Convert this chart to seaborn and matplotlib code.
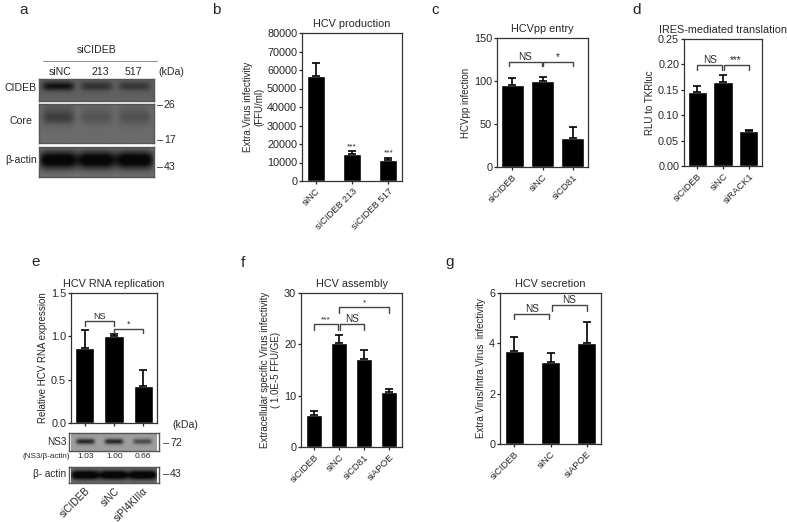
import numpy as np
import pandas as pd
import matplotlib
matplotlib.use("Agg")
import matplotlib.pyplot as plt
import seaborn as sns

# ---- data ----
b_groups = ["siNC", "siCIDEB 213", "siCIDEB 517"]
b_mean = [57000, 14500, 11500]
b_err = [7000, 1500, 1000]

c_groups = ["siCIDEB", "siNC", "siCD81"]
c_mean = [95, 100, 34]
c_err = [8, 5, 12]

d_groups = ["siCIDEB", "siNC", "siRACK1"]
d_mean = [0.145, 0.165, 0.069]
d_err = [0.013, 0.014, 0.002]

e_groups = ["siCIDEB", "siNC", "siPI4KIIIα"]
e_mean = [0.86, 1.00, 0.43]
e_err = [0.21, 0.03, 0.18]

f_groups = ["siCIDEB", "siNC", "siCD81", "siAPOE"]
f_mean = [6.3, 20.3, 17.2, 10.8]
f_err = [0.7, 1.6, 1.7, 0.5]

g_groups = ["siCIDEB", "siNC", "siAPOE"]
g_mean = [3.7, 3.25, 4.0]
g_err = [0.55, 0.37, 0.85]

# blots (relative band strength per lane)
a_lanes = ["siNC", "213", "517"]
a_cideb = [0.95, 0.55, 0.5]
a_core = [0.6, 0.3, 0.35]
a_actin = [1.0, 1.0, 1.0]
e_ns3 = [0.85, 0.85, 0.6]
e_actin = [1.0, 1.0, 1.0]
e_ratio = ["1.03", "1.00", "0.66"]

W, H = 787, 522
sns.set_theme(style="ticks")
plt.rcParams["font.family"] = ["Liberation Sans", "DejaVu Sans"]
plt.rcParams["axes.linewidth"] = 0.9
plt.rcParams["xtick.major.width"] = 0.9
plt.rcParams["ytick.major.width"] = 0.9
plt.rcParams["xtick.major.size"] = 2.5
plt.rcParams["ytick.major.size"] = 2.5
plt.rcParams["xtick.major.pad"] = 1.5
plt.rcParams["ytick.major.pad"] = 1.0

fig = plt.figure(figsize=(W / 100, H / 100), dpi=100)
TS = 6.8   # x tick labels / small text
YS = 7.8   # y tick labels
TT = 7.8   # titles


def px_axes(x0, y0, x1, y1):
    return fig.add_axes([x0 / W, 1 - y1 / H, (x1 - x0) / W, (y1 - y0) / H])


def ftext(x, y, s, **kw):
    kw.setdefault("ha", "center")
    kw.setdefault("va", "center")
    kw.setdefault("fontsize", TS)
    fig.text(x / W, 1 - y / H, s, **kw)


def bar_panel(ax, groups, mean, err, width, ylim, yticks, title, ylabel, ticklabels=True, fmt=None):
    df = pd.DataFrame({"group": groups, "value": mean})
    sns.barplot(data=df, x="group", y="value", color="black", width=width,
                errorbar=None, ax=ax, saturation=1)
    ax.errorbar(range(len(groups)), mean, yerr=[np.zeros(len(err)), err], fmt="none",
                ecolor="black", elinewidth=1.2, capsize=2.6, capthick=1.2)
    ax.set_ylim(*ylim)
    ax.set_yticks(yticks)
    if fmt:
        ax.set_yticklabels([fmt.format(v) for v in yticks])
    ax.tick_params(axis="y", labelsize=YS)
    ax.tick_params(axis="x", labelsize=TS)
    ax.set_xlabel("")
    ax.set_ylabel(ylabel, fontsize=7.0, labelpad=2)
    ax.set_title(title, fontsize=TT, pad=4)
    if ticklabels:
        ax.set_xticks(range(len(groups)))
        ax.set_xticklabels(groups, rotation=45, ha="right", rotation_mode="anchor")
    else:
        ax.set_xticklabels([])
    for s in ax.spines.values():
        s.set_color("#333333")


def bracket(ax, x0, x1, y, drop, label, fs=7.2):
    ax.plot([x0, x0, x1, x1], [y - drop, y, y, y - drop], color="#444444", lw=1.0, clip_on=False)
    ax.text((x0 + x1) / 2, y, label, ha="center", va="bottom", fontsize=fs)


def blot(ax, strengths, bg=0.5, depth=0.5, bw=0.38, bh=0.22, cy=0.55, smear=0.0):
    nx, ny = 240, 60
    xs = np.linspace(-0.5, len(strengths) - 0.5, nx)
    ys = np.linspace(0, 1, ny)
    X, Y = np.meshgrid(xs, ys)
    img = np.full_like(X, bg)
    for i, s in enumerate(strengths):
        prof = np.exp(-((X - i) / bw) ** 6) * np.exp(-((Y - cy) / bh) ** 2)
        img -= depth * s * prof
        if smear:
            img -= smear * s * np.exp(-((X - i) / bw) ** 6) * np.exp(-((Y - cy + 0.25) / 0.25) ** 2)
    img = np.clip(img, 0.03, 1)
    ax.imshow(img, cmap="gray", vmin=0, vmax=1, aspect="auto",
              extent=(-0.5, len(strengths) - 0.5, 1, 0), interpolation="bilinear")
    ax.set_xticks([])
    ax.set_yticks([])
    for s in ax.spines.values():
        s.set_color("#555555")
        s.set_linewidth(1.0)


# ---- panel a: blot ----
for lbl, strength, (y0, y1), kda, ky, bgv, dep, in [
    ("CIDEB", a_cideb, (79, 101), "26", 105, 0.38, 0.33),
    ("Core", a_core, (104, 143), "17", 140, 0.42, 0.26),
    ("β-actin", a_actin, (147, 177), "43", 167, 0.45, 0.5),
]:
    ax = px_axes(39, y0, 154, y1)
    ax.set_xlim(-0.5, 2.5)
    if lbl == "β-actin":
        blot(ax, strength, bg=bgv, depth=dep, bw=0.5, bh=0.3, cy=0.45)
    elif lbl == "Core":
        blot(ax, strength, bg=bgv, depth=dep, bw=0.42, bh=0.18, cy=0.35, smear=0.1)
    else:
        blot(ax, strength, bg=bgv, depth=dep, bw=0.42, bh=0.2, cy=0.35)
    ftext(21, (y0 + y1) / 2 - 2, lbl, fontsize=7.6)
    ftext(157, ky, "–", ha="left", fontsize=8)
    ftext(164, ky, kda, ha="left", fontsize=7.6)
ftext(97, 50, "siCIDEB", fontsize=7.6)
fig.add_artist(plt.Line2D([43 / W, 157 / W], [1 - 61 / H, 1 - 61 / H], color="#777777", lw=0.6))
for x, s in zip([60, 100, 133], a_lanes):
    ftext(x, 72, s, fontsize=7.6)
ftext(171, 72, "(kDa)", fontsize=7.6)

# ---- panel b ----
ax = px_axes(302, 33, 402, 181)
bar_panel(ax, b_groups, b_mean, b_err, 0.5, (0, 80000), range(0, 80001, 10000),
          "HCV production", "Extra.Virus infectivity\n(FFU/ml)")
for i in (1, 2):
    ax.text(i, b_mean[i] + b_err[i] + 600, "***", ha="center", va="bottom", fontsize=6)

# ---- panel c ----
ax = px_axes(497, 38, 588, 167)
bar_panel(ax, c_groups, c_mean, c_err, 0.75, (0, 150), [0, 50, 100, 150],
          "HCVpp entry", "HCVpp infection")
ax.title.set_position((0.5, 1.04))
bracket(ax, -0.1, 0.97, 122, 5, "NS")
bracket(ax, 1.03, 2.0, 122, 5, "*")

# ---- panel d ----
ax = px_axes(684, 39, 762, 166)
bar_panel(ax, d_groups, d_mean, d_err, 0.77, (0, 0.25), [0, 0.05, 0.10, 0.15, 0.20, 0.25],
          "IRES-mediated translation", "RLU to TKRluc", fmt="{:.2f}")
ax.title.set_position((0.5, 1.04))
bracket(ax, 0.0, 0.97, 0.199, 0.011, "NS")
bracket(ax, 1.03, 2.0, 0.199, 0.011, "***")

# ---- panel e ----
ax = px_axes(71, 293, 157, 423)
bar_panel(ax, e_groups, e_mean, e_err, 0.66, (0, 1.5), [0, 0.5, 1.0, 1.5],
          "HCV RNA replication", "Relative HCV RNA expression", ticklabels=False, fmt="{:.1f}")
bracket(ax, 0.0, 1.0, 1.177, 0.055, "NS", fs=6.5)
bracket(ax, 1.0, 2.0, 1.085, 0.05, "*", fs=6.5)
ax_ns3 = px_axes(69, 433, 159, 451)
blot(ax_ns3, e_ns3, bg=0.62, depth=0.55, bw=0.33, bh=0.15, cy=0.5)
ax_ns3.set_xlim(-0.57, 2.57)
ax_act = px_axes(69, 467, 159, 483)
blot(ax_act, e_actin, bg=0.45, depth=0.55, bw=0.5, bh=0.3, cy=0.5)
ax_act.set_xlim(-0.57, 2.57)
ax_act.set_xticks(range(3))
ax_act.set_xticklabels(e_groups, rotation=45, ha="right", rotation_mode="anchor", fontsize=7.2)
ax_act.tick_params(length=0, pad=2)
ftext(57, 442, "NS3", fontsize=7.2)
ftext(50, 474, "β- actin", fontsize=7.2)
ftext(46, 457, "(NS3/β-actin)", fontsize=5.8)
for x, s in zip([86, 115, 143], e_ratio):
    ftext(x, 457, s, fontsize=6.0)
ftext(185, 425, "(kDa)", fontsize=7.6)
ftext(163, 443, "–", ha="left", fontsize=8)
ftext(170, 443, "72", ha="left", fontsize=7.6)
ftext(163, 474, "–", ha="left", fontsize=8)
ftext(170, 474, "43", ha="left", fontsize=7.6)

# ---- panel f ----
ax = px_axes(301, 293, 402, 447)
bar_panel(ax, f_groups, f_mean, f_err, 0.64, (0, 30), [0, 10, 20, 30],
          "HCV assembly", "Extracellular specific Virus infectivity\n( 1.0E-5 FFU/GE)")
bracket(ax, 0.0, 0.97, 24.0, 1.2, "***", fs=6)
bracket(ax, 1.03, 2.0, 24.0, 1.2, "NS")
bracket(ax, 1.0, 3.0, 27.3, 1.1, "*", fs=6)

# ---- panel g ----
ax = px_axes(500, 293, 601, 444)
bar_panel(ax, g_groups, g_mean, g_err, 0.55, (0, 6), [0, 2, 4, 6],
          "HCV secretion", "Extra.Virus/Intra.Virus  infectivity")
bracket(ax, 0.0, 0.97, 5.17, 0.21, "NS")
bracket(ax, 1.03, 2.0, 5.52, 0.22, "NS")

# panel letters
for x, y, s in [(24, 10, "a"), (216, 10, "b"), (435, 10, "c"), (637, 10, "d"),
                (36, 262, "e"), (243, 263, "f"), (450, 262, "g")]:
    ftext(x, y, s, fontsize=11)

fig.savefig("out.png", dpi=100)
